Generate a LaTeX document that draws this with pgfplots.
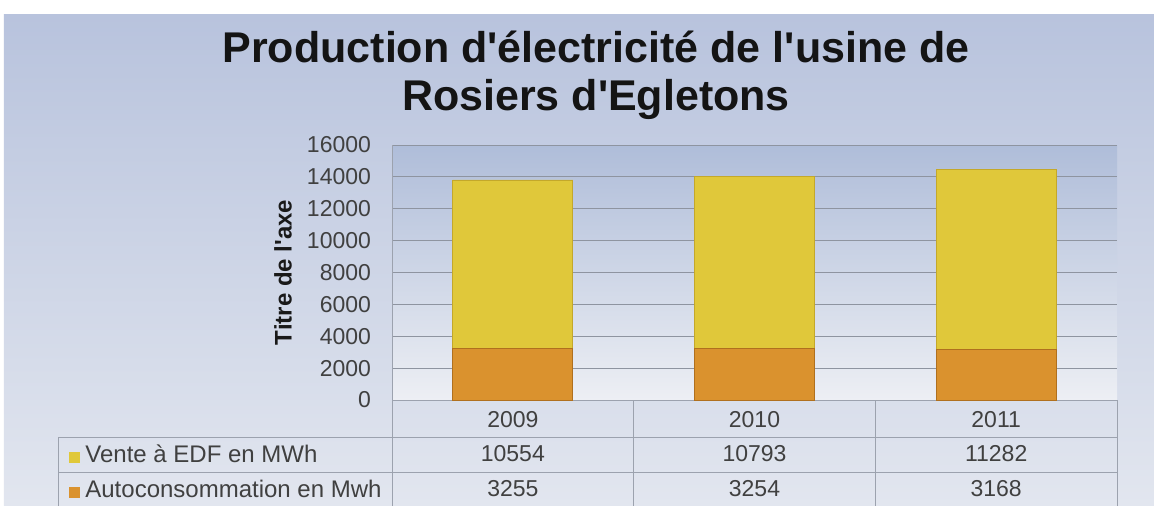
\documentclass[border=0pt]{standalone}
\usepackage{pgfplots}
\pgfplotsset{compat=1.18}
\usepackage{pgfplotstable}
\usepackage{fontspec}
\setmainfont{Liberation Sans}

\definecolor{vente}{HTML}{E0C83A}
\definecolor{ventedk}{HTML}{C4A82A}
\definecolor{autoc}{HTML}{DA922E}
\definecolor{autodk}{HTML}{B0701E}
\definecolor{gridc}{HTML}{8E94A0}
\definecolor{tabline}{HTML}{9CA2AE}
\definecolor{txt}{HTML}{404040}
\definecolor{bgtop}{HTML}{B8C3DD}
\definecolor{bgbot}{HTML}{E2E6EF}
\definecolor{plottop}{HTML}{AFBDD9}
\definecolor{plotbot}{HTML}{EDEFF4}

% production (MWh)
\pgfplotstableread{
x year vente auto
0 2009 10554 3255
1 2010 10793 3254
2 2011 11282 3168
}\prod

\begin{document}
\begin{tikzpicture}
\useasboundingbox (-196pt,-52.5pt) rectangle (381pt,200pt);
\fill[white] (-196pt,-52.5pt) rectangle (381pt,200pt);
\shade[top color=bgtop, bottom color=bgbot] (-194pt,-52.5pt) rectangle (381pt,193pt);

\node[anchor=base, text=black!92, font=\bfseries\fontsize{21.5}{25}\selectfont] at (102pt,169pt)
    {Production d\textquotesingle électricité de l\textquotesingle usine de};
\node[anchor=base, text=black!92, font=\bfseries\fontsize{21.5}{25}\selectfont] at (102pt,145pt)
    {Rosiers d\textquotesingle Egletons};

\begin{axis}[
    scale only axis,
    width=362.5pt, height=127.5pt,
    at={(0pt,0pt)}, anchor=south west,
    xmin=-0.5, xmax=2.5,
    ymin=0, ymax=16000,
    ybar stacked,
    bar width=60pt,
    xtick=\empty,
    ytick={0,2000,...,16000},
    scaled y ticks=false,
    ymajorgrids=true,
    grid style={gridc, line width=0.5pt},
    axis x line*=bottom,
    axis y line*=left,
    axis line style={tabline, line width=0.5pt},
    major tick length=0pt,
    axis background/.style={top color=plottop, bottom color=plotbot},
    yticklabel style={font=\fontsize{11.5}{13}\selectfont, text=txt, xshift=-7pt,
        /pgf/number format/1000 sep={}, /pgf/number format/assume math mode=true},
    ylabel={Titre de l\textquotesingle axe},
    ylabel style={font=\bfseries\fontsize{12}{14}\selectfont, text=black!90,
        at={(axis description cs:-0.1503,0.5)}, anchor=center},
    ]
\addplot[fill=autoc, draw=autodk, line width=0.4pt] table[x=x, y=auto] {\prod};
\addplot[fill=vente, draw=ventedk, line width=0.4pt] table[x=x, y=vente] {\prod};
\end{axis}

% data table under the chart
\draw[tabline, line width=0.5pt] (-166.5pt,-18.5pt) -- (362.5pt,-18.5pt);
\draw[tabline, line width=0.5pt] (-166.5pt,-36pt) -- (362.5pt,-36pt);
\draw[tabline, line width=0.5pt] (-166.5pt,-18.5pt) -- (-166.5pt,-53pt);
\draw[tabline, line width=0.5pt] (0pt,0pt) -- (0pt,-53pt);
\draw[tabline, line width=0.5pt] (120.83pt,0pt) -- (120.83pt,-53pt);
\draw[tabline, line width=0.5pt] (241.67pt,0pt) -- (241.67pt,-53pt);
\draw[tabline, line width=0.5pt] (362.5pt,0pt) -- (362.5pt,-53pt);

\begin{axis}[
    scale only axis,
    width=362.5pt, height=127.5pt,
    at={(0pt,0pt)}, anchor=south west,
    xmin=-0.5, xmax=2.5,
    ymin=0, ymax=16000,
    hide axis, clip=false,
    nodes near coords,
    point meta=explicit symbolic,
    every node near coord/.append style={anchor=center, text=txt,
        font=\fontsize{11.5}{13}\selectfont},
    ]
\addplot[draw=none, mark=none] table[x=x, y expr=-1255, meta=year] {\prod};
\addplot[draw=none, mark=none] table[x=x, y expr=-3389, meta=vente] {\prod};
\addplot[draw=none, mark=none] table[x=x, y expr=-5585, meta=auto] {\prod};
\node[anchor=west, inner sep=0pt, text=txt, font=\fontsize{12}{14}\selectfont]
    at ([xshift=-161.5pt]axis cs:-0.5,-3389) {\textcolor{vente}{\rule{5.5pt}{5.5pt}}\hspace{2.5pt}Vente à EDF en MWh};
\node[anchor=west, inner sep=0pt, text=txt, font=\fontsize{12}{14}\selectfont]
    at ([xshift=-161.5pt]axis cs:-0.5,-5585) {\textcolor{autoc}{\rule{5.5pt}{5.5pt}}\hspace{2.5pt}Autoconsommation en Mwh};
\end{axis}
\end{tikzpicture}
\end{document}
